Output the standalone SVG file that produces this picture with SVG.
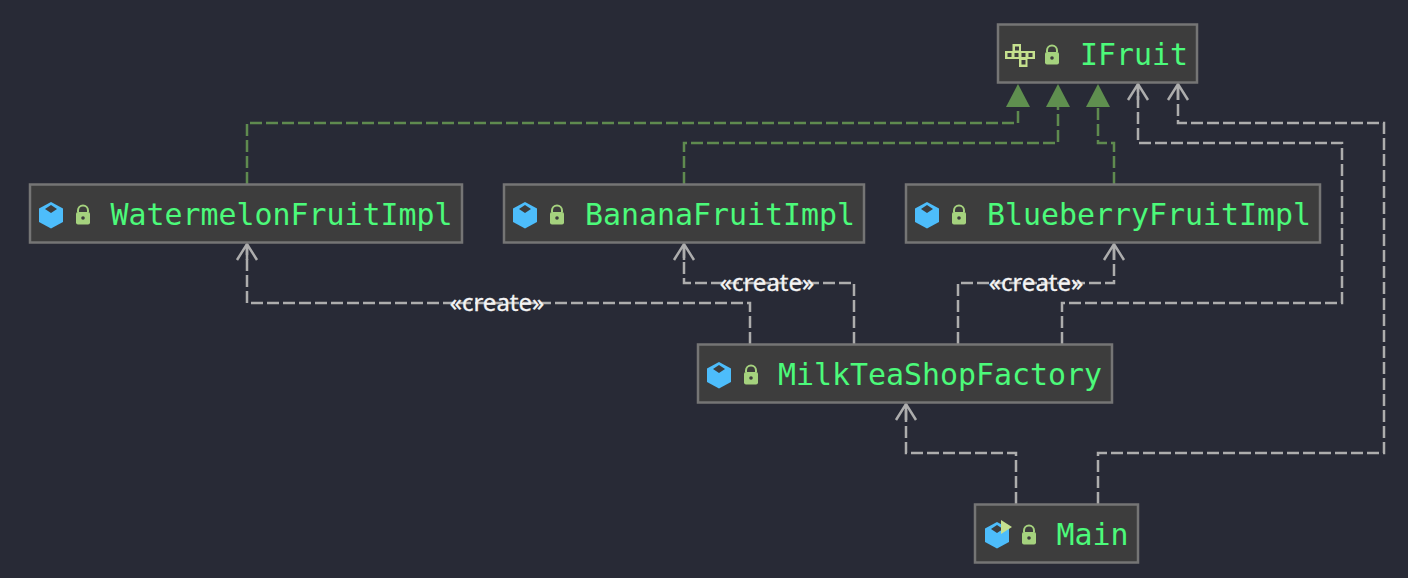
<svg xmlns="http://www.w3.org/2000/svg" width="1408" height="578" viewBox="0 0 1408 578">
<style>
.box{fill:#3d3d3d;stroke:#757575;stroke-width:2.5}
.name{font:29.9px "DejaVu Sans Mono",monospace;fill:#4cfa7a}
.lbl{font:24px "Noto Sans","DejaVu Sans",sans-serif;fill:#f4f4f4;stroke:#f4f4f4;stroke-width:.3;text-anchor:middle}
.g{fill:none;stroke:#5f8a4f;stroke-width:2.500;stroke-dasharray:12 4}
.w{fill:none;stroke:#adadad;stroke-width:2.500;stroke-dasharray:12 4}
.ah{fill:none;stroke:#adadad;stroke-width:2.500}
.tri{fill:#5f8f4f}
.cube{fill:#4dbdfb}
.top{fill:#3d3d3d}
.lock{fill:#a5d27e}
.lockl{fill:none;stroke:#a5d27e;stroke-width:2}
.ic{fill:#c5e08e}
.ho{fill:#3d3d3d}
</style>
<defs>
<g id="cube"><path class="cube" d="M0-13 12-6.500V7L0 13.500-12 7V-6.500Z"/><path class="top" d="M0-10 6-6 0-2-6-6Z"/></g>
<g id="lock"><path class="lockl" d="M-5-2V-3.500a5 5 0 0 1 10 0V-2"/><rect class="lock" x="-7" y="-2" width="14" height="12.500" rx="2"/><circle cx="0" cy="4" r="1.800" fill="#3d3d3d"/></g>
<path id="arrow" class="ah" d="M-10 16 0 0 10 16M0 0V16"/>
</defs>
<rect width="1408" height="578" fill="#282a36"/>
<g id="connectors">
<path class="g" d="M247 184V123H1018V106"/>
<path class="g" d="M684 184V143H1058V106"/>
<path class="g" d="M1114 184V143H1098V106"/>
<path class="w" d="M750 344V303H247V244"/>
<path class="w" d="M854 344V283H684V244"/>
<path class="w" d="M958 344V283H1114V244"/>
<path class="w" d="M1062 344V303H1342V143H1138V84"/>
<path class="w" d="M1016 504V453H906V404"/>
<path class="w" d="M1098 504V453H1384V123H1178V84"/>
<path class="tri" d="M1018 84 1030 107H1006Z"/>
<path class="tri" d="M1058 84 1070 107H1046Z"/>
<path class="tri" d="M1098 84 1110 107H1086Z"/>
<use href="#arrow" x="1138" y="84"/>
<use href="#arrow" x="1178" y="84"/>
<use href="#arrow" x="247" y="244"/>
<use href="#arrow" x="684" y="244"/>
<use href="#arrow" x="1114" y="244"/>
<use href="#arrow" x="906" y="404"/>
<text class="lbl" x="497" y="311">«create»</text>
<text class="lbl" x="767" y="291">«create»</text>
<text class="lbl" x="1036" y="291">«create»</text>
</g>
<g id="IFruit"><rect class="box" x="998" y="24.500" width="199" height="58"/>
<path class="ic" d="M1012.500 44H1021V51H1035V59H1027.500V67H1019V59H1005V51H1012.500Z"/>
<rect class="ho" x="1015" y="46.500" width="4" height="4"/><rect class="ho" x="1007.500" y="53" width="4" height="4"/><rect class="ho" x="1014.500" y="53" width="4" height="4"/><rect class="ho" x="1021.500" y="53" width="4" height="4"/><rect class="ho" x="1028.500" y="53" width="4" height="4"/><rect class="ho" x="1021.500" y="60" width="4" height="4.500"/>
<use href="#lock" x="1052" y="54"/><text class="name" x="1080" y="65">IFruit</text></g>
<g id="WatermelonFruitImpl"><rect class="box" x="30" y="184.500" width="432" height="58"/><use href="#cube" x="51" y="215"/><use href="#lock" x="83" y="214"/><text class="name" x="110.500" y="225">WatermelonFruitImpl</text></g>
<g id="BananaFruitImpl"><rect class="box" x="504" y="184.500" width="360" height="58"/><use href="#cube" x="525" y="215"/><use href="#lock" x="557" y="214"/><text class="name" x="585" y="225">BananaFruitImpl</text></g>
<g id="BlueberryFruitImpl"><rect class="box" x="906" y="184.500" width="414" height="58"/><use href="#cube" x="927" y="215"/><use href="#lock" x="959" y="214"/><text class="name" x="987" y="225">BlueberryFruitImpl</text></g>
<g id="MilkTeaShopFactory"><rect class="box" x="698" y="344.500" width="414" height="58"/><use href="#cube" x="719" y="375"/><use href="#lock" x="751" y="374"/><text class="name" x="778" y="385">MilkTeaShopFactory</text></g>
<g id="Main"><rect class="box" x="975" y="504.500" width="163" height="58"/><use href="#cube" x="997" y="535"/><path d="M1001 520 1012 527 1001 534Z" fill="#c5e08e"/><use href="#lock" x="1029" y="534"/><text class="name" x="1056.500" y="545">Main</text></g>
</svg>
